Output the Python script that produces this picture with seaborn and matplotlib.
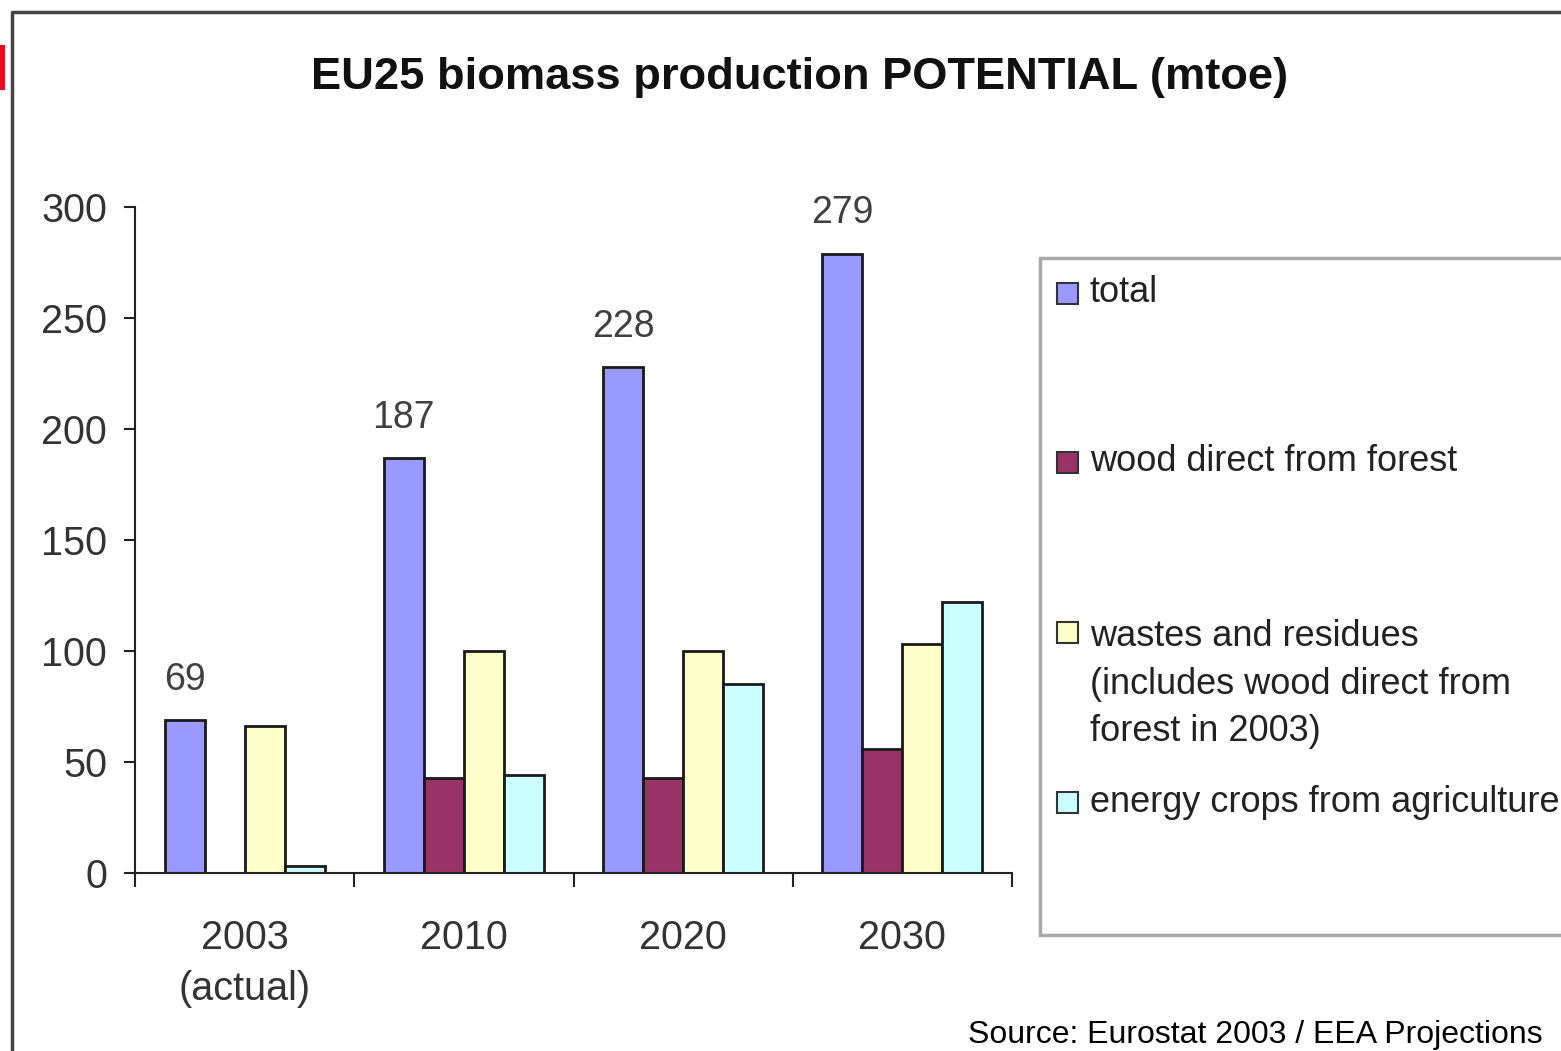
import pandas as pd
import matplotlib
matplotlib.use("Agg")
import matplotlib.pyplot as plt
from matplotlib.patches import Rectangle
import seaborn as sns

# valeurs (mtoe)
years = ["2003\n(actual)", "2010", "2020", "2030"]
series = ["total", "wood direct from forest",
          "wastes and residues\n(includes wood direct from\nforest in 2003)",
          "energy crops from agriculture"]
total = [69, 187, 228, 279]
wood = [0, 43, 43, 56]
wastes = [66, 100, 100, 103]
crops = [3, 44, 85, 122]
colors = ["#9999FF", "#993366", "#FFFFCC", "#CCFFFF"]

rows = []
for name, vals in zip(series, [total, wood, wastes, crops]):
    for y, v in zip(years, vals):
        rows.append({"year": y, "series": name, "mtoe": v})
df = pd.DataFrame(rows)

sns.set_style("white")
plt.rcParams["font.family"] = ["Liberation Sans", "DejaVu Sans"]

W, H = 1561, 1051
fig = plt.figure(figsize=(W / 100, H / 100), dpi=100)


def fx(px):
    return px / W


def fy(py):
    return 1 - py / H


ax = fig.add_axes([fx(135), fy(873), fx(1012) - fx(135), fy(207) - fy(873)])

sns.barplot(data=df, x="year", y="mtoe", hue="series", order=years, hue_order=series,
            palette=colors, saturation=1, width=0.73, edgecolor="#1a1a1a", linewidth=2,
            errorbar=None, legend=False, ax=ax)

ax.set_ylim(0, 300)
ax.set_xlim(-0.5, 3.5)
ax.set_yticks(range(0, 301, 50))
ax.tick_params(axis="y", direction="out", length=8, width=1.5, color="#222222",
               labelsize=28.5, labelcolor="#333333", pad=12, left=True)
ax.set_xticks([-0.5, 0.5, 1.5, 2.5, 3.5])
ax.set_xticklabels([])
ax.set_xticks(range(len(years)), minor=True)
ax.set_xticklabels(years, minor=True)
ax.tick_params(axis="x", which="major", direction="out", length=10, width=1.5,
               color="#222222", bottom=True)
ax.tick_params(axis="x", which="minor", length=0, labelsize=28.5, labelcolor="#333333",
               pad=33)
for lab in ax.get_xticklabels(minor=True):
    lab.set_linespacing(1.45)
ax.set_xlabel("")
ax.set_ylabel("")
sns.despine(ax=ax)
for side in ["left", "bottom"]:
    ax.spines[side].set_color("#222222")
    ax.spines[side].set_linewidth(1.5)

ax.bar_label(ax.containers[0], padding=16, fontsize=27, color="#404040")

# titre
fig.text(fx(800), fy(78), "EU25 biomass production POTENTIAL (mtoe)", ha="center", va="center",
         fontsize=32.6, fontweight="bold", color="#111111")

# légende (entrées espacées comme dans l'original)
fig.patches.append(Rectangle((fx(1040), fy(935)), fx(1600) - fx(1040), fy(258) - fy(935),
                             transform=fig.transFigure, facecolor="white",
                             edgecolor="#a8a8a8", linewidth=2.5))
leg_y = [293, 462, 684, 802]
for name, col, yc in zip(series, colors, leg_y):
    yy = 632 if "\n" in name else yc
    fig.patches.append(Rectangle((fx(1057), fy(yy + 11)), fx(21), 21 / H,
                                 transform=fig.transFigure, facecolor=col,
                                 edgecolor="#333333", linewidth=1.5))
    fig.text(fx(1090), fy(yc), name, ha="left", va="center", fontsize=26,
             color="#222222", linespacing=1.45)

fig.text(fx(1543), fy(1035), "Source: Eurostat 2003 / EEA Projections", ha="right",
         va="center", fontsize=23, color="black")

# cadre extérieur
fig.lines.append(plt.Line2D([fx(12), fx(12), 1], [0, fy(12), fy(12)], transform=fig.transFigure,
                            color="#444444", linewidth=2.5))
fig.patches.append(Rectangle((0, fy(90)), fx(5), 45 / H, transform=fig.transFigure,
                             facecolor="#e8101f", edgecolor="none"))

fig.savefig("out.png", dpi=100)
